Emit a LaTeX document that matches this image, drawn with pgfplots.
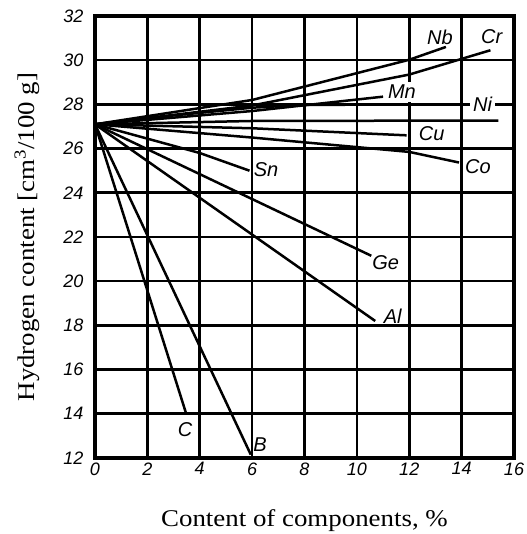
\documentclass[border=0pt]{standalone}
\usepackage{fontspec}
\setmainfont{Liberation Serif}
\setsansfont{Liberation Sans}
\newfontfamily\labelfont[FakeStretch=1.12]{Liberation Serif}
\usepackage{pgfplots}
\pgfplotsset{compat=1.18}

\begin{document}
\begin{tikzpicture}
\useasboundingbox (-95pt,-76pt) rectangle (431pt,458pt);
\begin{axis}[
    at={(0,0)}, anchor=south west,
    scale only axis,
    width=419pt, height=442pt,
    xmin=0, xmax=16, ymin=12, ymax=32,
    xtick={0,2,...,16}, ytick={12,14,...,32},
    major tick length=0pt,
    grid=major,
    grid style={black, line width=2.6pt},
    major grid style={black, line width=2.6pt},
    axis line style={black, line width=3.2pt},
    /pgf/number format/assume math mode=true,
    ticklabel style={font=\fontsize{18}{20}\selectfont\sffamily\itshape},
    yticklabel style={xshift=-8pt},
    xticklabel style={yshift=-1pt},
    xlabel={Content of components, \%},
    ylabel={Hydrogen content [cm\textsuperscript{3}/100 g]},
    label style={font=\labelfont\fontsize{24}{26}\selectfont},
    xlabel style={at={(axis description cs:0.5,-0.1425)}, anchor=center},
    ylabel style={at={(axis description cs:-0.162,0.5)}, anchor=center},
    cycle list={black\\},
    every axis plot/.append style={black, solid, line width=2.5pt, no marks},
    clip=false,
]
\addplot coordinates {(0,27.1) (6,28.2) (12,30.02) (13.4,30.6)};      % Nb
\addplot coordinates {(0,27.1) (6,27.95) (12,29.35) (15.1,30.45)};    % Cr
\addplot coordinates {(0,27.1) (6,27.7) (11,28.35)};                  % Mn
\addplot coordinates {(0,27.1) (3,27.5) (6,27.85) (8,27.98) (16,28.0)}; % Ni
\addplot coordinates {(0,27.1) (6,27.25) (15.4,27.27)};
\addplot coordinates {(0,27.1) (6,26.92) (11.9,26.6)};                % Cu
\addplot coordinates {(0,27.1) (6,26.5) (12,25.85) (13.9,25.37)};     % Co
\addplot coordinates {(0,27.1) (4,25.8) (5.9,25.0)};                  % Sn
\addplot coordinates {(0,27.1) (10.55,21.15)};                        % Ge
\addplot coordinates {(0,27.1) (10.7,18.2)};                          % Al
\addplot coordinates {(0,27.1) (3.47,14.05)};                         % C
\addplot coordinates {(0,27.1) (5.95,12.15)};                         % B

\begin{scope}[every node/.style={font=\fontsize{20}{22}\selectfont\sffamily\itshape, inner sep=1pt}]
\node at (axis cs:13.17,31.05) {Nb};
\node at (axis cs:15.15,31.05) {Cr};
\node[fill=white, inner sep=3pt] at (axis cs:11.72,28.56) {Mn};
\node[fill=white, inner sep=3pt] at (axis cs:14.8,28.0) {Ni};
\node at (axis cs:12.86,26.7) {Cu};
\node at (axis cs:14.62,25.2) {Co};
\node at (axis cs:6.53,25.03) {Sn};
\node at (axis cs:11.1,20.82) {Ge};
\node at (axis cs:11.37,18.43) {Al};
\node at (axis cs:3.44,13.3) {C};
\node at (axis cs:6.3,12.6) {B};
\end{scope}
\end{axis}
\end{tikzpicture}
\end{document}
